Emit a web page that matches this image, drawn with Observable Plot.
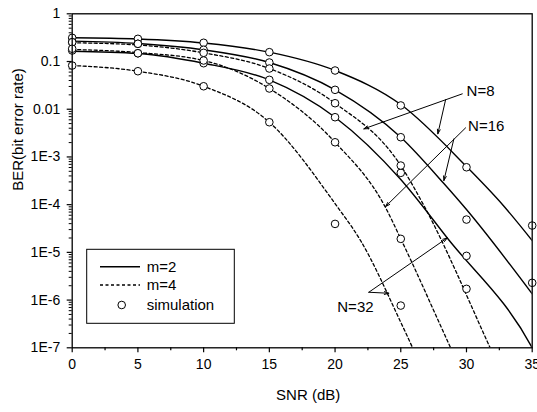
<!DOCTYPE html>
<html><head><meta charset="utf-8">
<script src="https://cdn.jsdelivr.net/npm/d3@7"></script>
<script src="https://cdn.jsdelivr.net/npm/@observablehq/plot@0.6"></script>
<style>
body{margin:0;background:#fff;}
#chart{width:537px;height:412px;}
</style></head><body><div id="chart"></div>
<script>
// ---- theory curves ----
const xN8m2 = [0,5,10,15,20,25,30,32.8,35];
const yN8m2 = [0.314,0.296,0.244,0.157,0.0648,0.01255,6.29e-4,9.6e-5,1.77e-5];
const xN16m2 = [0,5,10,15,20,25,28.28,30,35];
const yN16m2 = [0.267,0.238,0.176,0.0953,0.0255,2.59e-3,2.77e-4,7.89e-5,1.35e-6];
const xN32m2 = [0,5,10,15,20,25,28.54,35,35.3];
const yN32m2 = [0.164,0.147,0.0921,0.0413,6.8e-3,3.36e-4,2.0e-5,1.0e-7,7e-8];
const xN8m4 = [0,5,10,15,20,25,26.76,31.8,32.1];
const yN8m4 = [0.247,0.222,0.152,0.0713,0.01336,6.6e-4,9.57e-5,1e-7,6.6e-8];
const xN16m4 = [0,5,10,15,20,23.84,25,28.79,29.1];
const yN16m4 = [0.179,0.154,0.105,0.0272,2.03e-3,8.7e-5,1.92e-5,1e-7,6.5e-8];
const xN32m4 = [0,5,10,15,20,21.94,25,25.9,26.2];
const yN32m4 = [0.0824,0.0626,0.0303,5.34e-3,1.05e-4,1.77e-5,3.43e-7,1e-7,6.6e-8];

// ---- simulation points ----
const simX = [0,5,10,15,20,25,30,35];
const simN8m2 = [0.314,0.299,0.247,0.157,0.0648,0.0120,6.08e-4,3.65e-5];
const simN16m2 = [0.254,0.235,0.176,0.0953,0.0255,2.59e-3,4.87e-5,2.3e-6];
const simN32m2 = [0.170,0.149,0.0921,0.0413,6.8e-3,4.64e-4,8.45e-6];
const simN8m4 = [0.254,0.235,0.152,0.0713,0.01336,6.6e-4,1.72e-6];
const simN16m4 = [0.185,0.149,0.105,0.0272,2.03e-3,1.92e-5];
const simN32m4 = [0.0824,0.0626,0.0303,5.34e-3,3.95e-5,7.67e-7];

// ---- ticks ----
const xTicks = [0,5,10,15,20,25,30,35];
const xMinor = [2.5,7.5,12.5,17.5,22.5,27.5,32.5];
const yTicks = [1,0.1,0.01,1e-3,1e-4,1e-5,1e-6,1e-7];
const yTickLabels = ["1","0.1","0.01","1E-3","1E-4","1E-5","1E-6","1E-7"];
const yMinor = [];
for (let k = -7; k < 0; k++) for (let j = 2; j <= 9; j++) yMinor.push(j * Math.pow(10, k));

// ---- annotations ----
const annLabels = ["N=8","N=16","N=32"];
const annLabelX = [30.01,30.12,20.17];
const annLabelY = [0.0241,4.38e-3,7.2e-7];
const arrX1 = [29.68,28.41,29.93,29.04,22.57,22.57];
const arrY1 = [0.0210,0.0158,4.07e-3,2.39e-3,1.46e-6,1.46e-6];
const arrX2 = [22.19,27.82,23.84,28.28,28.54,24.09];
const arrY2 = [3.88e-3,3.05e-3,9.12e-5,3.2e-4,2.01e-5,1.39e-6];

const legendLabels = ["m=2","m=4","simulation"];

const series = [
  {N:8, m:2, x:xN8m2, y:yN8m2, sx:simX, sy:simN8m2},
  {N:16, m:2, x:xN16m2, y:yN16m2, sx:simX, sy:simN16m2},
  {N:32, m:2, x:xN32m2, y:yN32m2, sx:simX, sy:simN32m2},
  {N:8, m:4, x:xN8m4, y:yN8m4, sx:simX, sy:simN8m4},
  {N:16, m:4, x:xN16m4, y:yN16m4, sx:simX, sy:simN16m4},
  {N:32, m:4, x:xN32m4, y:yN32m4, sx:simX, sy:simN32m4}
];
const lineRows = series.flatMap(s => s.x.map((x,i) => ({key:s.N+"-"+s.m, m:s.m, x, y:s.y[i]})));
const simRows = series.flatMap(s => s.sy.map((y,i) => ({key:s.N+"-"+s.m, x:s.sx[i], y})));
const arrows = arrX1.map((x,i) => ({x1:x, y1:arrY1[i], x2:arrX2[i], y2:arrY2[i]}));
const labels = annLabels.map((t,i) => ({t, x:annLabelX[i], y:annLabelY[i]}));

const font = "Liberation Sans, Arial, Helvetica, sans-serif";
const fmtY = d => yTickLabels[yTicks.findIndex(v => Math.abs(Math.log10(v) - Math.log10(d)) < 1e-6)];

const plot = Plot.plot({
  width: 537, height: 412,
  marginLeft: 71.7, marginRight: 5.3, marginTop: 13.3, marginBottom: 64.7,
  style: {fontFamily: font, fontSize: "14px", background: "white", color: "black"},
  x: {domain: [0,35]},
  y: {type: "log", domain: [1e-7, 1]},
  marks: [
    Plot.axisX({ticks: xTicks, tickSize: 5, tickPadding: 6, label: null, fontSize: 14, strokeWidth: 1.2}),
    Plot.axisX({ticks: xMinor, tickSize: 3, text: null, label: null, strokeWidth: 1.2}),
    Plot.axisY({ticks: yTicks, tickSize: 5, tickPadding: 7, tickFormat: fmtY, label: null, fontSize: 14, strokeWidth: 1.2}),
    Plot.axisY({ticks: yMinor, tickSize: 3, text: null, label: null, strokeWidth: 1}),
    Plot.line(lineRows.filter(d => d.m === 2), {x:"x", y:"y", z:"key", curve:"monotone-x", stroke:"black", strokeWidth:1.4, clip:true}),
    Plot.line(lineRows.filter(d => d.m === 4), {x:"x", y:"y", z:"key", curve:"monotone-x", stroke:"black", strokeWidth:1.3, strokeDasharray:"3,2.5", clip:true}),
    Plot.dot(simRows, {x:"x", y:"y", r:3.8, fill:"white", stroke:"black", strokeWidth:1}),
    Plot.arrow(arrows, {x1:"x1", y1:"y1", x2:"x2", y2:"y2", stroke:"black", strokeWidth:1, headLength:7, headAngle:35}),
    Plot.text(labels, {x:"x", y:"y", text:"t", textAnchor:"start", fontSize:15, fill:"black"}),
    Plot.frame({stroke:"black", strokeWidth:1.3}),
    Plot.text(["SNR (dB)"], {frameAnchor:"bottom", dy:52, dx:6, fontSize:15, fill:"black"}),
    Plot.text(["BER(bit error rate)"], {frameAnchor:"left", dx:-54, dy:10, rotate:-90, fontSize:15, fill:"black"})
  ]
});

// legend box inside the plot
const svg = d3.select(plot);
const g = svg.append("g").attr("font-family", font).attr("font-size", 15).attr("fill", "black")
  .attr("text-anchor", "start");
g.append("rect").attr("x", 86.7).attr("y", 249.3).attr("width", 147.6).attr("height", 74)
  .attr("fill", "white").attr("stroke", "black").attr("stroke-width", 1);
const rowY = [266.7, 285, 305];
legendLabels.forEach((t, i) => {
  if (i < 2) {
    g.append("line").attr("x1", 100).attr("x2", 140).attr("y1", rowY[i]).attr("y2", rowY[i])
      .attr("stroke", "black").attr("stroke-width", i === 0 ? 1.4 : 1.3)
      .attr("stroke-dasharray", i === 1 ? "3,2.5" : null);
  } else {
    g.append("circle").attr("cx", 121.7).attr("cy", rowY[i]).attr("r", 3.8)
      .attr("fill", "white").attr("stroke", "black").attr("stroke-width", 1);
  }
  g.append("text").attr("x", 146.7).attr("y", rowY[i]).attr("dy", "0.35em")
    .attr("text-anchor", "start").text(t);
});

document.getElementById("chart").appendChild(plot);
</script>
</body></html>
